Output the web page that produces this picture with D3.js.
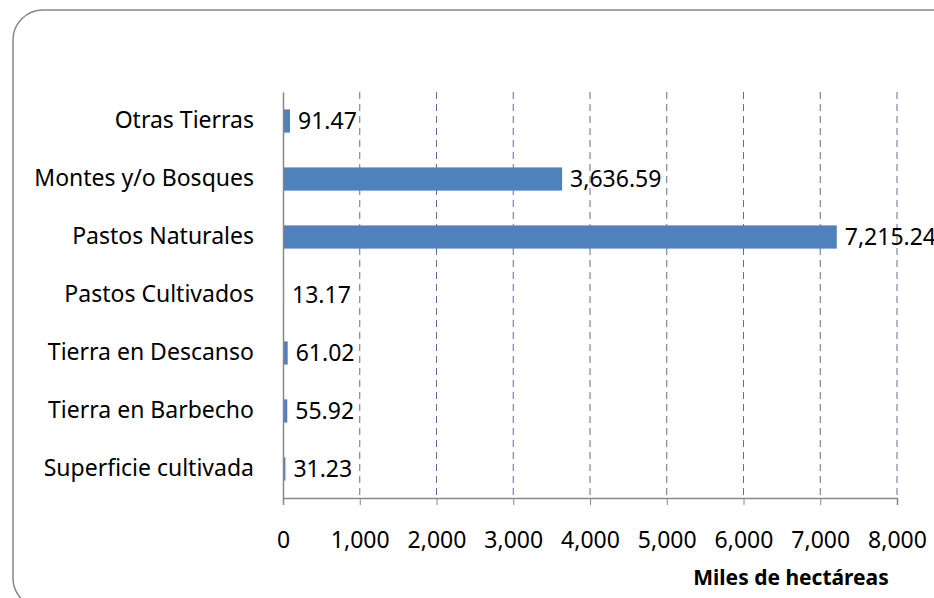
<!DOCTYPE html>
<html>
<head>
<meta charset="utf-8">
<script src="https://cdn.jsdelivr.net/npm/d3@7"></script>
<style>
  body { margin: 0; background: #fff; }
  text { font-family: "Noto Sans", sans-serif; fill: #000; }
</style>
</head>
<body>
<div id="container"></div>
<script>
let w = 934;
let h = 598;

// data, top to bottom as shown
let categories = ["Otras Tierras", "Montes y/o Bosques", "Pastos Naturales", "Pastos Cultivados",
  "Tierra en Descanso", "Tierra en Barbecho", "Superficie cultivada"];
let values = [91.47, 3636.59, 7215.24, 13.17, 61.02, 55.92, 31.23];
let xTicks = [0, 1000, 2000, 3000, 4000, 5000, 6000, 7000, 8000];
let xTitle = "Miles de hectáreas";

let plotLeft = 283, plotRight = 897, plotTop = 92, plotBottom = 498;

let viz = d3.select("#container")
  .append("svg")
  .attr("width", w)
  .attr("height", h);

// outer rounded frame
viz.append("rect")
  .attr("x", 13).attr("y", 10)
  .attr("width", 950).attr("height", 598)
  .attr("rx", 30).attr("ry", 30)
  .attr("fill", "none")
  .attr("stroke", "#868686")
  .attr("stroke-width", 1.5);

let xScale = d3.scaleLinear().domain([0, 8000]).range([plotLeft, plotRight]);
let yScale = d3.scaleBand().domain(categories).range([plotTop, plotBottom]).paddingInner(0.6).paddingOuter(0.3);

// dashed gridlines
viz.append("g").selectAll("line")
  .data(xTicks.slice(1))
  .enter()
  .append("line")
  .attr("x1", d => xScale(d)).attr("x2", d => xScale(d))
  .attr("y1", plotTop).attr("y2", plotBottom)
  .attr("stroke", "#6b6b98")
  .attr("stroke-width", 1)
  .attr("stroke-dasharray", "7,5");

// bars
viz.append("g").selectAll("rect")
  .data(values)
  .enter()
  .append("rect")
  .attr("x", xScale(0))
  .attr("y", (d, i) => yScale(categories[i]))
  .attr("width", d => xScale(d) - xScale(0))
  .attr("height", yScale.bandwidth())
  .attr("fill", "#4f81bd");

// x axis
let xAxis = d3.axisBottom(xScale).tickValues(xTicks).tickSize(7).tickPadding(27)
  .tickFormat(d3.format(","));
let xAxisGroup = viz.append("g").attr("transform", "translate(0," + plotBottom + ")").call(xAxis);
xAxisGroup.select(".domain").attr("stroke", "#888").attr("stroke-width", 1.5);
xAxisGroup.selectAll(".tick line").attr("stroke", "#888");
xAxisGroup.selectAll("text").attr("font-size", 23).attr("font-family", "Noto Sans");

// y axis
let yAxis = d3.axisLeft(yScale).tickSize(0).tickPadding(29);
let yAxisGroup = viz.append("g").attr("transform", "translate(" + plotLeft + ",0)").call(yAxis);
yAxisGroup.select(".domain").attr("stroke", "#888").attr("stroke-width", 1.5);
yAxisGroup.selectAll("text").attr("font-size", 23).attr("font-family", "Noto Sans");

// value labels
viz.append("g").selectAll("text")
  .data(values)
  .enter()
  .append("text")
  .attr("x", d => xScale(d) + 8)
  .attr("y", (d, i) => yScale(categories[i]) + yScale.bandwidth() / 2)
  .attr("dy", "0.35em")
  .attr("font-size", 23)
  .text(d => d3.format(",.2f")(d));

// axis title
viz.append("text")
  .attr("x", 791)
  .attr("y", 585)
  .attr("text-anchor", "middle")
  .attr("font-size", 21)
  .attr("font-weight", "bold")
  .text(xTitle);
</script>
</body>
</html>
